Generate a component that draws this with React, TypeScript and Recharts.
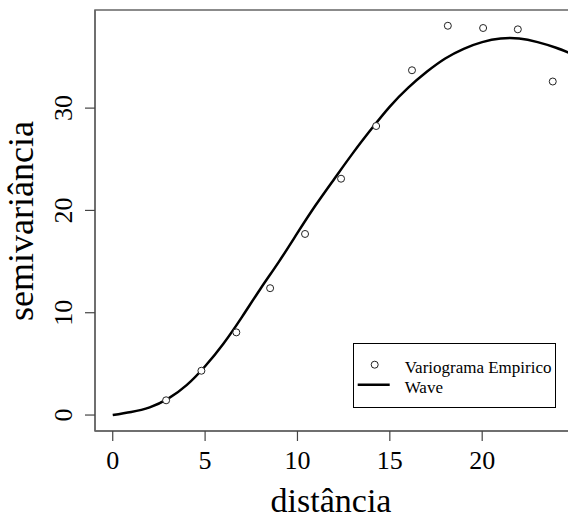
import React from 'react';
import {
  ComposedChart,
  Line,
  Scatter,
  XAxis,
  YAxis,
  Legend,
  Label,
  ReferenceArea,
} from 'recharts';

// empirical variogram (circles)
const lagDist = [2.89, 4.8, 6.69, 8.52, 10.41, 12.36, 14.26, 16.2, 18.14, 20.05, 21.93, 23.82];
const semivar = [1.44, 4.33, 8.08, 12.4, 17.7, 23.1, 28.25, 33.7, 38.05, 37.83, 37.7, 32.6];

// fitted wave model (line)
const waveDist = [0, 1, 2, 3, 4, 5, 6, 7, 8, 9, 10, 11, 12, 13, 14, 15, 16, 17, 18, 19, 20, 21, 22, 23, 24, 25];
const waveVals = [0, 0.3, 0.75, 1.6, 2.92, 4.77, 7.0, 9.6, 12.35, 15.0, 17.8, 20.55, 23.1, 25.6, 27.95, 30.15, 32.0, 33.55, 34.85, 35.8, 36.45, 36.8, 36.8, 36.45, 35.9, 35.2];

const xTicks = [0, 5, 10, 15, 20];
const yTicks = [0, 10, 20, 30];
const legendLabels = ['Variograma Empirico', 'Wave'];

const points = lagDist.map((d, i) => ({ x: d, y: semivar[i] }));
const curve = waveDist.map((d, i) => ({ x: d, y: waveVals[i] }));

const FONT = '"Liberation Serif", "Times New Roman", serif';
const X_DOMAIN: [number, number] = [-0.96, 24.97];
const Y_DOMAIN: [number, number] = [-1.56, 39.59];

const XTick = (props: any) => {
  const { x, payload } = props;
  return (
    <text x={x} y={469} textAnchor="middle" fontSize={26} fontFamily={FONT} fill="#000">
      {payload.value}
    </text>
  );
};

const YTick = (props: any) => {
  const { y, payload } = props;
  return (
    <text
      x={72}
      y={y}
      textAnchor="middle"
      fontSize={26}
      fontFamily={FONT}
      fill="#000"
      transform={`rotate(-90, 72, ${y})`}
    >
      {payload.value}
    </text>
  );
};

const OpenCircle = (props: any) => {
  const { cx, cy } = props;
  return <circle cx={cx} cy={cy} r={3.5} fill="#fff" stroke="#222" strokeWidth={1} />;
};

const LegendBox = () => (
  <svg width={203} height={65} style={{ display: 'block' }}>
    <rect x={0.5} y={0.5} width={202} height={64} fill="#fff" stroke="#000" strokeWidth={1} />
    <circle cx={21.7} cy={21.7} r={3.5} fill="#fff" stroke="#222" strokeWidth={1} />
    <line x1={4.7} x2={36.7} y1={41.7} y2={41.7} stroke="#000" strokeWidth={2.5} />
    <text x={51.7} y={29.5} fontSize={17} fontFamily={FONT} fill="#000">
      {legendLabels[0]}
    </text>
    <text x={51.7} y={50} fontSize={17} fontFamily={FONT} fill="#000">
      {legendLabels[1]}
    </text>
  </svg>
);

export default function App() {
  return (
    <div
      style={{
        position: 'absolute',
        left: 0,
        top: 0,
        width: 568,
        height: 523,
        overflow: 'hidden',
        background: '#fff',
      }}
    >
      <ComposedChart width={600} height={523} margin={{ top: 10, right: 26, bottom: 0, left: 0 }}>
        <XAxis
          type="number"
          dataKey="x"
          domain={X_DOMAIN}
          ticks={xTicks}
          allowDataOverflow
          height={92}
          tickSize={10}
          tick={<XTick />}
          axisLine={{ stroke: '#666', strokeWidth: 1.5 }}
          tickLine={{ stroke: '#444', strokeWidth: 1.2 }}
        >
          <Label
            content={() => (
              <text x={331} y={512} textAnchor="middle" fontSize={34} fontFamily={FONT} fill="#000">
                distância
              </text>
            )}
          />
        </XAxis>
        <YAxis
          type="number"
          dataKey="y"
          domain={Y_DOMAIN}
          ticks={yTicks}
          allowDataOverflow
          width={95}
          tickSize={10}
          tick={<YTick />}
          axisLine={{ stroke: '#666', strokeWidth: 1.5 }}
          tickLine={{ stroke: '#444', strokeWidth: 1.2 }}
        >
          <Label
            content={() => (
              <text
                x={33}
                y={221}
                textAnchor="middle"
                fontSize={36}
                fontFamily={FONT}
                fill="#000"
                transform="rotate(-90, 33, 221)"
              >
                semivariância
              </text>
            )}
          />
        </YAxis>
        <ReferenceArea
          x1={X_DOMAIN[0]}
          x2={X_DOMAIN[1]}
          y1={Y_DOMAIN[0]}
          y2={Y_DOMAIN[1]}
          fill="none"
          fillOpacity={0}
          stroke="#666"
          strokeWidth={1.5}
          ifOverflow="visible"
        />
        <Line
          data={curve}
          dataKey="y"
          type="natural"
          stroke="#000"
          strokeWidth={2.5}
          dot={false}
          activeDot={false}
          isAnimationActive={false}
        />
        <Scatter data={points} dataKey="y" shape={<OpenCircle />} isAnimationActive={false} />
        <Legend
          layout="horizontal"
          verticalAlign="middle"
          align="center"
          content={<LegendBox />}
          wrapperStyle={{ left: 353, top: 343, width: 203, height: 65 }}
        />
      </ComposedChart>
    </div>
  );
}
